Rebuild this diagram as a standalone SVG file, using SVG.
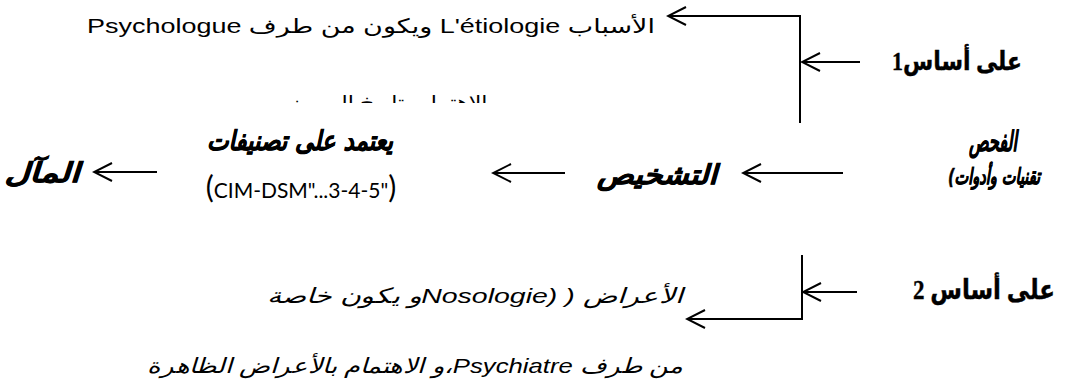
<svg xmlns="http://www.w3.org/2000/svg" width="1090" height="387" viewBox="0 0 1090 387">
<style>
.t{font-family:"Liberation Sans","DejaVu Sans",sans-serif;font-size:20px;fill:#000}
.ti{font-family:"Liberation Sans","DejaVu Sans",sans-serif;font-size:21px;font-style:italic;fill:#000}
.b{font-family:"Liberation Serif","DejaVu Sans",serif;font-weight:bold;fill:#000;stroke:#000;stroke-width:0.4}
.bi{font-family:"DejaVu Sans","Liberation Sans",sans-serif;font-weight:bold;font-style:italic;fill:#000;stroke:#000;stroke-width:0.6}
.c{font-family:Lato,"Open Sans",sans-serif;fill:#000}
.ln{stroke:#000;stroke-width:2;fill:none}
</style>
<defs>
<marker id="ah" markerUnits="userSpaceOnUse" markerWidth="22" markerHeight="22" viewBox="0 0 22 22" refX="20" refY="11" orient="auto">
<path d="M2,2 L20,11 L2,20" fill="none" stroke="#000" stroke-width="2"/>
</marker>
<clipPath id="cut"><rect x="0" y="0" width="1090" height="103"/></clipPath>
</defs>
<g id="connectors">
<polyline class="ln" points="800,123 800,16 668,16" marker-end="url(#ah)"/>
<line class="ln" x1="860" y1="62" x2="802" y2="62" marker-end="url(#ah)"/>
<polyline class="ln" points="802,255 802,319 687,319" marker-end="url(#ah)"/>
<line class="ln" x1="857" y1="292" x2="803" y2="292" marker-end="url(#ah)"/>
<line class="ln" x1="843" y1="173" x2="743" y2="173" marker-end="url(#ah)"/>
<line class="ln" x1="565" y1="173" x2="493" y2="173" marker-end="url(#ah)"/>
<line class="ln" x1="157" y1="172" x2="94" y2="172" marker-end="url(#ah)"/>
</g>
<g id="causes">
<text class="t" x="371" y="33" text-anchor="middle" direction="rtl" textLength="568" lengthAdjust="spacingAndGlyphs">الأسباب L'étiologie ويكون من طرف Psychologue</text>
<text class="t" x="385" y="110" text-anchor="middle" direction="rtl" textLength="205" lengthAdjust="spacingAndGlyphs" clip-path="url(#cut)">الاهتمام بتاريخ المريض</text>
</g>
<g id="basis1">
<text class="b" x="957" y="70" font-size="26" text-anchor="middle" direction="rtl" textLength="130" lengthAdjust="spacingAndGlyphs">على أساس1</text>
</g>
<g id="examen">
<text class="bi" x="993" y="151" font-size="28" text-anchor="middle" direction="rtl" textLength="48" lengthAdjust="spacingAndGlyphs">الفحص</text>
<text class="bi" x="994" y="184" font-size="22" text-anchor="middle" direction="rtl" textLength="92" lengthAdjust="spacingAndGlyphs">تقنيات وأدوات)</text>
</g>
<g id="diagnostic">
<text class="bi" x="657" y="184" font-size="27" text-anchor="middle" direction="rtl" textLength="120" lengthAdjust="spacingAndGlyphs">التشخيص</text>
</g>
<g id="classification">
<text class="bi" x="300" y="150" font-size="27" text-anchor="middle" direction="rtl" textLength="186" lengthAdjust="spacingAndGlyphs">يعتمد على تصنيفات</text>
<text class="c" x="301" y="198" text-anchor="middle"><tspan font-size="30">(</tspan><tspan font-size="21">CIM-DSM"...3-4-5"</tspan><tspan font-size="30">)</tspan></text>
</g>
<g id="pronostic">
<text class="bi" x="42" y="182" font-size="27" text-anchor="middle" direction="rtl" textLength="75" lengthAdjust="spacingAndGlyphs">المآل</text>
</g>
<g id="basis2">
<text class="b" x="984" y="299" font-size="27" text-anchor="middle" direction="rtl" textLength="142" lengthAdjust="spacingAndGlyphs">على أساس 2</text>
</g>
<g id="symptoms">
<text class="ti" x="475" y="303" text-anchor="middle" direction="rtl" textLength="416" lengthAdjust="spacingAndGlyphs">الأعراض ( (Nosologieو يكون خاصة</text>
<text class="ti" x="415" y="373" text-anchor="middle" direction="rtl" textLength="535" lengthAdjust="spacingAndGlyphs">من طرف Psychiatre،و الاهتمام بالأعراض الظاهرة</text>
</g>
</svg>
